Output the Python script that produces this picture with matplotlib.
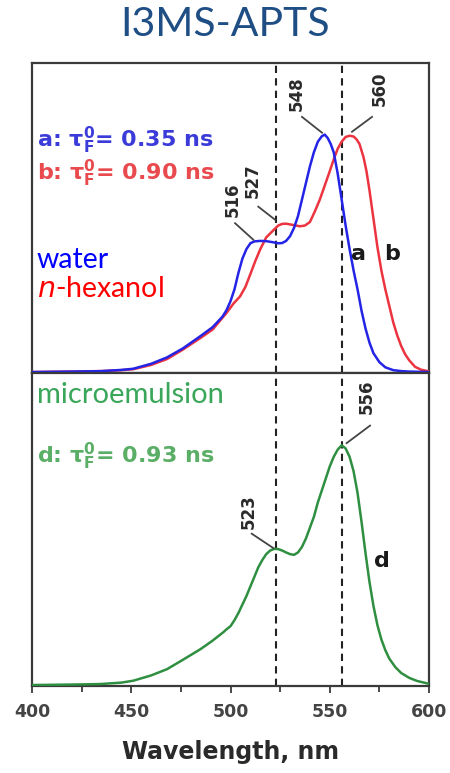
import matplotlib
matplotlib.use("Agg")
import matplotlib.pyplot as plt
from matplotlib.ticker import MultipleLocator

plt.rcParams['mathtext.fontset'] = 'dejavusans'
plt.rcParams['mathtext.default'] = 'bf'

# ---------------- data ----------------
wl_a = [400, 420, 435, 445, 451, 460, 468, 476, 485, 491, 496, 498, 500, 502, 504, 506,
        508, 510, 512, 515, 518, 521, 524, 526, 528, 530, 532, 534, 536, 538, 540, 542,
        544, 546, 547.5, 549, 550.5, 552, 554, 556, 558, 560, 562, 564, 566, 568, 570,
        572, 575, 578, 582, 586, 590, 600]
val_a = [0.0, 0.002, 0.004, 0.009, 0.014, 0.035, 0.062, 0.10, 0.153, 0.19, 0.235, 0.262,
         0.30, 0.35, 0.42, 0.48, 0.52, 0.545, 0.553, 0.555, 0.554, 0.55, 0.545, 0.546,
         0.555, 0.575, 0.61, 0.66, 0.73, 0.80, 0.87, 0.93, 0.975, 0.998, 1.005, 0.99,
         0.965, 0.93, 0.84, 0.73, 0.62, 0.52, 0.43, 0.35, 0.26, 0.185, 0.125, 0.08,
         0.042, 0.02, 0.008, 0.004, 0.002, 0.0]

wl_b = [400, 420, 435, 445, 451, 460, 468, 476, 485, 491, 498, 501.5, 504.8, 507.5,
        509.8, 512.5, 515, 518, 521.6, 524, 526, 528, 530, 533, 535, 537.5, 540, 542.5,
        545, 547.5, 550, 552, 554, 556, 558, 560, 562, 563.5, 565, 567, 568.5, 570, 572,
        574, 576, 578, 580, 582, 584, 586, 588, 590, 593, 596, 600]
val_b = [0.0, 0.002, 0.004, 0.008, 0.012, 0.03, 0.055, 0.095, 0.145, 0.18, 0.25, 0.29,
         0.32, 0.36, 0.41, 0.47, 0.52, 0.57, 0.60, 0.62, 0.627, 0.628, 0.625, 0.62, 0.617,
         0.62, 0.635, 0.68, 0.73, 0.79, 0.85, 0.90, 0.945, 0.975, 0.995, 1.0, 0.997, 0.985,
         0.965, 0.91, 0.85, 0.77, 0.65, 0.53, 0.43, 0.35, 0.28, 0.21, 0.155, 0.11, 0.075,
         0.05, 0.022, 0.01, 0.003]

wl_d = [400, 420, 434, 445, 451, 460, 468, 476, 485, 491, 496.4, 498, 500, 502, 504, 506,
        508, 510, 512, 514, 516, 518, 520, 522, 524, 526, 528, 530, 532, 534, 536, 538,
        540, 542, 544, 546, 548, 550, 552, 554, 556, 558, 560, 562, 564, 566, 568, 570,
        572, 574, 576, 578, 580, 583, 586, 590, 594, 600]
val_d = [0.0, 0.002, 0.004, 0.01, 0.018, 0.04, 0.066, 0.105, 0.15, 0.185, 0.22, 0.232,
         0.245, 0.27, 0.30, 0.335, 0.37, 0.41, 0.45, 0.49, 0.52, 0.545, 0.56, 0.567, 0.566,
         0.56, 0.552, 0.545, 0.542, 0.552, 0.575, 0.61, 0.655, 0.70, 0.76, 0.81, 0.86,
         0.91, 0.95, 0.98, 0.998, 0.985, 0.95, 0.89, 0.80, 0.68, 0.55, 0.43, 0.33, 0.25,
         0.19, 0.145, 0.11, 0.075, 0.05, 0.03, 0.017, 0.005]

dashed_wl = [523, 556]
xticks = [400, 450, 500, 550, 600]

# peak labels: (text, label x, label y, leader start x, y, leader end x, y)
peaks_top = [("548", 533.5, 1.18, 536.0, 1.08, 546.1, 1.013),
             ("560", 575.3, 1.20, 571.3, 1.08, 561.2, 1.017),
             ("516", 501.3, 0.73, 502.3, 0.63, 511.5, 0.56),
             ("527", 511.3, 0.81, 514.0, 0.70, 522.4, 0.645)]
peaks_bot = [("523", 509.0, 0.72, 510.7, 0.63, 521.6, 0.57),
             ("556", 568.8, 1.20, 570.3, 1.08, 558.5, 1.007)]

# ---------------- figure ----------------
W, H = 450, 773
fig = plt.figure(figsize=(W / 100, H / 100), dpi=100)
fig.patch.set_facecolor('white')

left, right = 32 / W, 429 / W
y_top, y_mid, y_bot = 1 - 63 / H, 1 - 373 / H, 1 - 686 / H
ax1 = fig.add_axes([left, y_mid, right - left, y_top - y_mid])
ax2 = fig.add_axes([left, y_bot, right - left, y_mid - y_bot])

blue, red, green = '#2424e6', '#ec3440', '#2f8f40'
spine_c = '#3a3a3a'
for ax in (ax1, ax2):
    ax.set_xlim(400, 600)
    for s in ax.spines.values():
        s.set_color(spine_c)
        s.set_linewidth(1.6)
    ax.set_yticks([])
    for xv in dashed_wl:
        ax.axvline(xv, color='#222222', lw=1.5, ls=(0, (3.5, 2.5)), zorder=1)

ax1.set_ylim(-0.004, 1.308)
ax2.set_ylim(-0.004, 1.299)

ax1.plot(wl_b, val_b, color=red, lw=1.8, zorder=3, solid_joinstyle='round')
ax1.plot(wl_a, val_a, color=blue, lw=1.8, zorder=4, solid_joinstyle='round')
ax2.plot(wl_d, val_d, color=green, lw=1.8, zorder=3, solid_joinstyle='round')

ax1.set_xticks([])
ax2.set_xticks(xticks)
ax2.xaxis.set_minor_locator(MultipleLocator(25))
ax2.tick_params(axis='x', which='both', direction='out', length=5, width=1.3,
                color=spine_c, pad=7)
ax2.tick_params(axis='x', which='minor', length=4)
for lab in ax2.get_xticklabels():
    lab.set_fontfamily('DejaVu Sans')
    lab.set_fontweight('bold')
    lab.set_fontsize(12.5)
    lab.set_color('#444444')
ax2.set_xlabel('Wavelength, nm', fontsize=17, fontweight='bold', family='DejaVu Sans',
               color='#2a2a2a', labelpad=14)

lab_kw = dict(fontsize=12, fontweight='bold', family='DejaVu Sans', color='#2a2a2a',
              rotation=90, ha='center', va='center', zorder=5)
for ax, plist in ((ax1, peaks_top), (ax2, peaks_bot)):
    for t, lx, ly, sx, sy, ex, ey in plist:
        ax.text(lx, ly, t, **lab_kw)
        ax.plot([sx, ex], [sy, ey], color='#444444', lw=1.3, zorder=5)

curve_kw = dict(fontsize=16, fontweight='bold', family='DejaVu Sans', color='#1a1a1a',
                ha='center', va='baseline', zorder=5)
ax1.text(564.4, 0.475, 'a', **curve_kw)
ax1.text(581.2, 0.475, 'b', **curve_kw)
ax2.text(576.2, 0.49, 'd', **curve_kw)

leg_kw = dict(fontsize=16, fontweight='bold', family='DejaVu Sans', ha='left',
              va='baseline')
ax1.text(0.012, 0.73, r'a: $\tau^{0}_{F}$= 0.35 ns', color='#3b3bd9',
         transform=ax1.transAxes, **leg_kw)
ax1.text(0.012, 0.6226, r'b: $\tau^{0}_{F}$= 0.90 ns', color='#e84a4e',
         transform=ax1.transAxes, **leg_kw)
ax2.text(0.012, 0.7125, r'd: $\tau^{0}_{F}$= 0.93 ns', color='#5aae66',
         transform=ax2.transAxes, **leg_kw)

name_kw = dict(fontsize=20.5, family='Lato', ha='left', va='baseline')
ax1.text(0.012, 0.339, 'water', color='#0000ff', transform=ax1.transAxes, **name_kw)
ax1.text(0.012, 0.246, r'$\mathit{n}$-hexanol', color='#ff0000', transform=ax1.transAxes,
         **name_kw)
ax2.text(0.012, 0.903, 'microemulsion', color='#3aa65a', transform=ax2.transAxes,
         fontsize=21, family='Lato', ha='left', va='baseline')

fig.text(0.5, 1 - 24 / H, 'I3MS-APTS', fontsize=29.5, family='Lato', color='#1f4e85',
         ha='center', va='center')

fig.savefig('out.png', dpi=100, facecolor='white')
